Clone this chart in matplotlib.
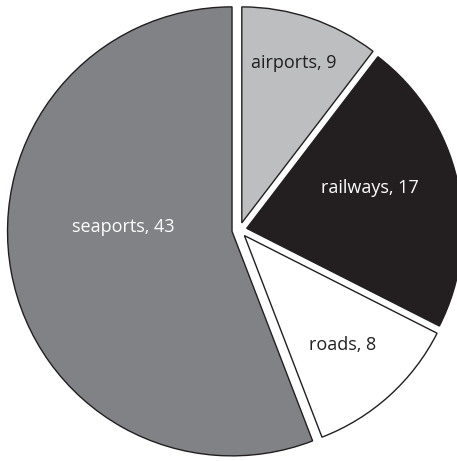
import matplotlib
matplotlib.use("Agg")
import matplotlib.pyplot as plt

# slice names and the numbers printed on the chart
names = ["airports", "railways", "roads", "seaports"]
label_values = [9, 17, 8, 43]
# slice sizes as drawn (angles)
sizes = [8, 17, 9, 43]

colors = ["#bcbec0", "#231f20", "#ffffff", "#808285"]
text_colors = ["#231f20", "#ffffff", "#231f20", "#ffffff"]

W, H = 457, 461
cx, cy = 239.4, H - 230.0
R = 216.0
R_big = 224.5
gap = 7.5  # explode distance in pixels (pie centre is in pixel units)
label_pos = [(294, 63), (370, 188), (343, 345), (123, 227)]

fig = plt.figure(figsize=(W / 100, H / 100), dpi=100)
ax = fig.add_axes([0, 0, 1, 1])

labels = ["%s, %d" % (n, v) for n, v in zip(names, label_values)]
wedges, texts = ax.pie(sizes, labels=labels, startangle=90, counterclock=False,
                       explode=[gap] * 4, radius=R, center=(cx, cy),
                       colors=colors,
                       wedgeprops=dict(edgecolor="#231f20", linewidth=1.0),
                       textprops=dict(family=["Open Sans", "DejaVu Sans"], fontsize=13))
# the seaports slice is drawn a little larger than the rest
wedges[3].set_radius(R_big)

for t, c, (x, y) in zip(texts, text_colors, label_pos):
    t.set_position((x, H - y))
    t.set_color(c)
    t.set_ha("center")
    t.set_va("center")

ax.set_xlim(0, W)
ax.set_ylim(0, H)
ax.set_aspect("auto")
ax.axis("off")

fig.savefig("out.png", dpi=100)
